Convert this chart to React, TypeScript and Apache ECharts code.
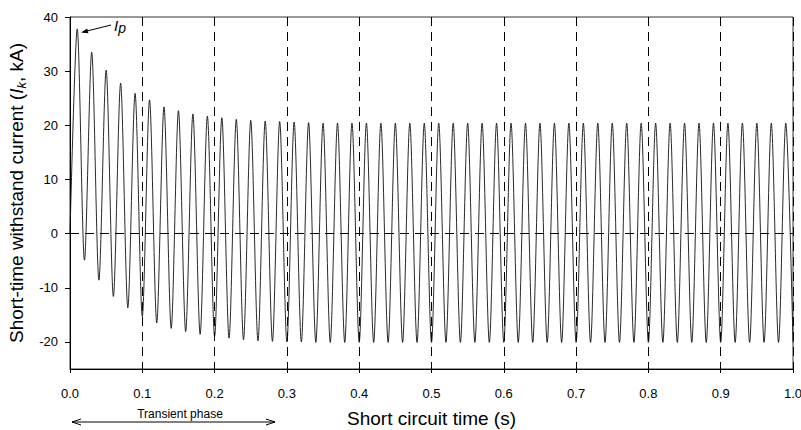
import React, { useEffect, useRef } from 'react';
import * as echarts from 'echarts';

// Peak values (kA) at t = 0.01, 0.03, ..., 0.99 s
const peakValues = [
  37.8, 33.5, 30.2, 27.8, 25.9, 24.7, 23.4, 22.7, 22.1, 21.7,
  21.4, 21.1, 20.9, 20.8, 20.7, 20.6, 20.5, 20.4, 20.4, 20.4,
  20.4, 20.4, 20.4, 20.4, 20.4, 20.4, 20.4, 20.4, 20.4, 20.4,
  20.4, 20.4, 20.4, 20.4, 20.4, 20.4, 20.4, 20.4, 20.4, 20.4,
  20.4, 20.4, 20.4, 20.4, 20.4, 20.4, 20.4, 20.4, 20.4, 20.4,
];
// Trough values (kA) at t = 0.02, 0.04, ..., 1.00 s
const troughValues = [
  -4.9, -8.6, -11.6, -13.7, -15.3, -16.5, -17.5, -18.1, -18.6, -19.0,
  -19.3, -19.6, -19.8, -19.9, -20.0, -20.0, -20.1, -20.1, -20.1, -20.1,
  -20.1, -20.1, -20.1, -20.1, -20.1, -20.1, -20.1, -20.1, -20.1, -20.1,
  -20.1, -20.1, -20.1, -20.1, -20.1, -20.1, -20.1, -20.1, -20.1, -20.1,
  -20.1, -20.1, -20.1, -20.1, -20.1, -20.1, -20.1, -20.1, -20.1, -20.1,
];
const halfCycle = 0.01; // s between a peak and the next trough (50 Hz)
const yTickValues = [-20, -10, 0, 10, 20, 30, 40];
const xAxisTitle = 'Short circuit time (s)';
const transientLabel = 'Transient phase';

const FONT = '"Liberation Sans", Arial, sans-serif';

export default function App() {
  const ref = useRef<HTMLDivElement>(null);
  useEffect(() => {
    if (!ref.current) return;
    const chart = echarts.init(ref.current, null, { renderer: 'svg' });

    const waveform: number[][] = [[0, 0]];
    for (let i = 0; i < peakValues.length; i++) {
      waveform.push([+((2 * i + 1) * halfCycle).toFixed(2), peakValues[i]]);
      waveform.push([+((2 * i + 2) * halfCycle).toFixed(2), troughValues[i]]);
    }

    chart.setOption({
      animation: false,
      textStyle: { fontFamily: FONT, color: '#000' },
      grid: {
        left: 70,
        right: 8,
        top: 17,
        bottom: 61,
        containLabel: false,
        outerBoundsMode: 'none',
        show: true,
        borderColor: '#333',
        borderWidth: 1,
        backgroundColor: 'transparent',
      },
      xAxis: {
        type: 'value',
        min: 0,
        max: 1,
        interval: 0.1,
        name: xAxisTitle,
        nameLocation: 'middle',
        nameGap: 40,
        nameTextStyle: { fontSize: 19, fontFamily: FONT, color: '#000' },
        axisLine: { show: true, onZero: false, lineStyle: { color: '#000', width: 1 } },
        axisTick: { show: true, inside: false, length: 4, lineStyle: { color: '#000' } },
        axisLabel: {
          fontSize: 13,
          fontFamily: FONT,
          color: '#000',
          margin: 18,
          formatter: (v: number) => v.toFixed(1),
        },
        splitLine: { show: true, lineStyle: { color: '#000', width: 1, type: [9, 6] } },
      },
      yAxis: {
        type: 'value',
        min: -25,
        max: 40,
        name: '{a|Short-time withstand current (}{i|I}{s|k}{a|, kA)}',
        nameLocation: 'middle',
        nameGap: 31,
        nameTextStyle: {
          fontSize: 19,
          fontFamily: FONT,
          color: '#000',
          rich: {
            a: { fontSize: 19, fontFamily: FONT, color: '#000', lineHeight: 24 },
            i: { fontSize: 19, fontFamily: FONT, color: '#000', fontStyle: 'italic', lineHeight: 24 },
            s: { fontSize: 13, fontFamily: FONT, color: '#000', fontStyle: 'italic', verticalAlign: 'bottom', lineHeight: 13 },
          },
        },
        axisLine: { show: true, onZero: false, lineStyle: { color: '#000', width: 1 } },
        axisTick: { show: true, inside: false, length: 5, customValues: yTickValues, lineStyle: { color: '#000' } },
        axisLabel: {
          fontSize: 13,
          fontFamily: FONT,
          color: '#000',
          margin: 12,
          customValues: yTickValues,
        },
        splitLine: { show: false },
      },
      series: [
        {
          type: 'line',
          data: waveform,
          showSymbol: false,
          smooth: 0.3,
          lineStyle: { color: '#111', width: 0.9 },
          itemStyle: { color: '#000' },
          markLine: {
            silent: true,
            symbol: 'none',
            label: { show: false },
            lineStyle: { color: '#000', width: 1, type: [9, 6] },
            data: [{ yAxis: 0 }],
          },
          z: 2,
        },
      ],
      graphic: [
        {
          type: 'text',
          left: 114,
          top: 18,
          style: {
            text: '{i|I}{p|p}',
            rich: {
              i: { fontSize: 15, fontStyle: 'italic', fontFamily: FONT, fill: '#000', lineHeight: 18 },
              p: { fontSize: 14, fontStyle: 'italic', fontFamily: FONT, fill: '#000', verticalAlign: 'bottom', lineHeight: 14 },
            },
          },
        },
        {
          type: 'line',
          shape: { x1: 111, y1: 25, x2: 83, y2: 32 },
          style: { stroke: '#000', lineWidth: 1 },
        },
        {
          type: 'polygon',
          shape: { points: [[81, 32.5], [88.4, 33.2], [87.2, 28.4]] },
          style: { fill: '#000' },
        },
        {
          type: 'text',
          x: 180,
          y: 413.5,
          style: {
            text: transientLabel,
            fontSize: 12,
            fontFamily: FONT,
            fill: '#000',
            align: 'center',
            verticalAlign: 'middle',
          },
        },
        {
          type: 'line',
          shape: { x1: 72, y1: 422, x2: 275, y2: 422 },
          style: { stroke: '#000', lineWidth: 1 },
        },
        {
          type: 'polyline',
          shape: { points: [[81, 419], [72, 422], [81, 425]] },
          style: { stroke: '#000', lineWidth: 1, fill: null },
        },
        {
          type: 'polyline',
          shape: { points: [[266, 419], [275, 422], [266, 425]] },
          style: { stroke: '#000', lineWidth: 1, fill: null },
        },
      ],
    });
    return () => chart.dispose();
  }, []);
  return (
    <div
      ref={ref}
      style={{ position: 'absolute', left: 0, top: 0, width: 801, height: 430, background: '#fff' }}
    />
  );
}
